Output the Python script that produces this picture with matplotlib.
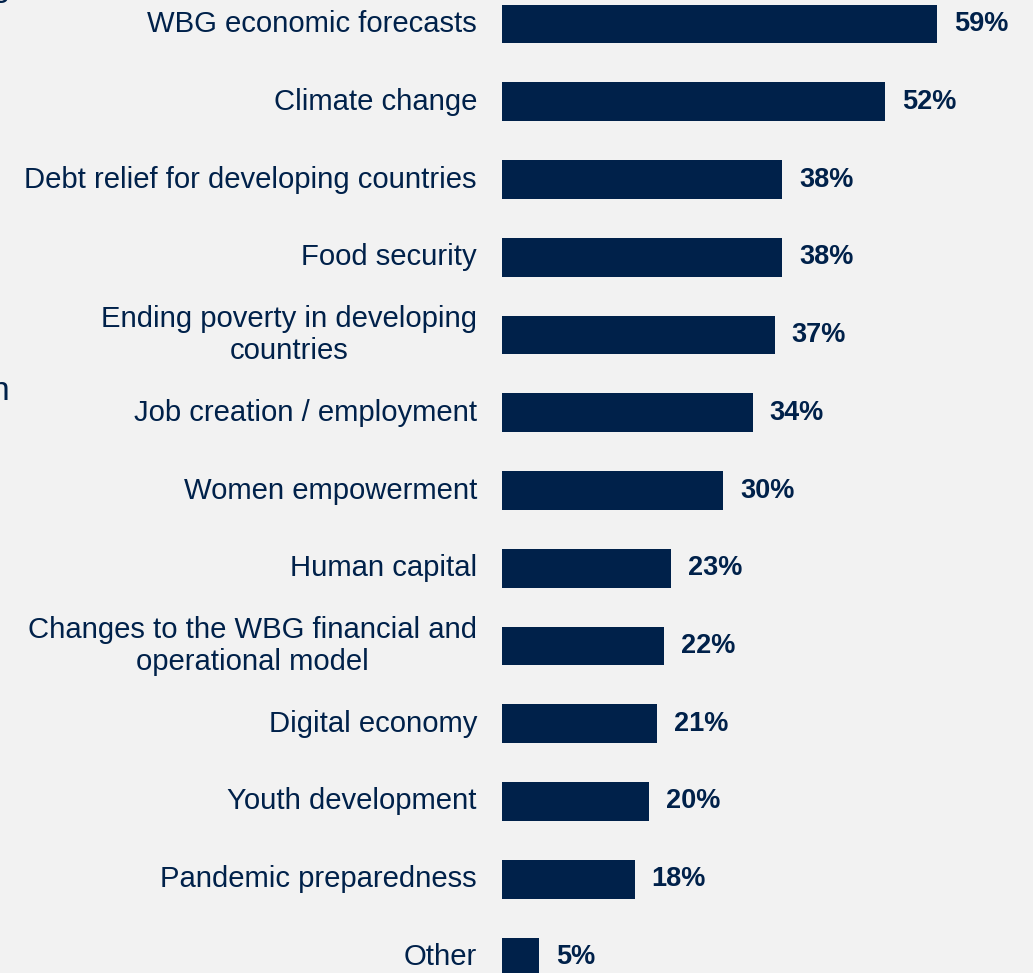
import matplotlib.pyplot as plt

plt.rcParams['font.family'] = ['Liberation Sans', 'DejaVu Sans']

topics = ["WBG economic forecasts", "Climate change", "Debt relief for developing countries",
          "Food security", "Ending poverty in developing\ncountries", "Job creation / employment",
          "Women empowerment", "Human capital", "Changes to the WBG financial and\noperational model",
          "Digital economy", "Youth development", "Pandemic preparedness", "Other"]
shares = [59, 52, 38, 38, 37, 34, 30, 23, 22, 21, 20, 18, 5]

navy = '#00214A'
bg = '#F2F2F2'

fig = plt.figure(figsize=(10.33, 9.73), dpi=100, facecolor=bg)
ax = fig.add_axes([0, 0, 1, 1])
ax.set_facecolor(bg)

pos = list(range(len(topics)))
ax.barh(pos, shares, height=0.5, color=navy)

for i, (t, v) in enumerate(zip(topics, shares)):
    ax.text(-3.4, i, t, ha='right', va='center', multialignment='center',
            fontsize=21.1, color=navy, linespacing=1.22)
    ax.text(v + 2.3, i, f"{v}%", ha='left', va='center', fontsize=19.5,
            fontweight='bold', color=navy)

ax.set_xlim(-68.1, 72.05)
ax.set_ylim(12.206, -0.309)
ax.axis('off')

# clipped fragments of text lying off the left edge
fig.text(0.0095, 1.004, "g", ha='right', va='baseline', fontsize=24, color=navy)
fig.text(0.0095, 1 - 400 / 973, "n", ha='right', va='baseline', fontsize=24, color=navy)

fig.savefig('out.png', dpi=100, facecolor=bg)
